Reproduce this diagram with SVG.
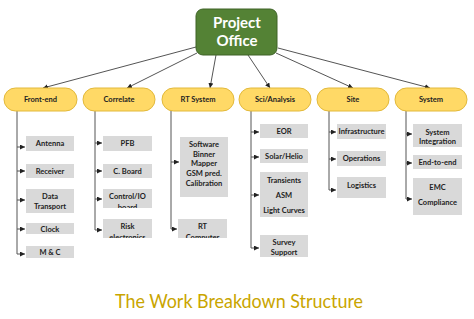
<svg xmlns="http://www.w3.org/2000/svg" width="474" height="319" viewBox="0 0 474 319">
<defs>
<marker id="ah" viewBox="0 0 10 10" refX="10" refY="5" markerWidth="5" markerHeight="5" orient="auto" markerUnits="userSpaceOnUse"><path d="M0,0 L10,5 L0,10 z" fill="#222"/></marker>
<clipPath id="cp1"><rect x="103" y="189" width="49" height="19"/></clipPath>
<clipPath id="cp2"><rect x="103" y="219" width="49" height="19"/></clipPath>
<clipPath id="cp3"><rect x="178" y="219" width="49" height="19"/></clipPath>
<style>
.l1 rect{fill:#FFD966;stroke:#E2B93B;stroke-width:1}
.l1 text{font-family:Lato,"Open Sans",sans-serif;font-weight:bold;font-size:7.5px;fill:#222;text-anchor:middle}
.bx rect{fill:#D9D9D9}
.bx text{font-family:Lato,"Open Sans",sans-serif;font-weight:bold;font-size:7.5px;fill:#222;text-anchor:middle}
.c line,.c path{stroke:#555;stroke-width:1;fill:none}
.a{marker-end:url(#ah)}
</style>
</defs>
<rect width="474" height="319" fill="#fff"/>
<g id="connectors" class="c">
<line class="a" x1="196" y1="47" x2="43" y2="88"/>
<line class="a" x1="197" y1="53" x2="127" y2="88"/>
<line class="a" x1="216" y1="55" x2="210" y2="88"/>
<line class="a" x1="248" y1="55" x2="270" y2="88"/>
<line class="a" x1="276" y1="53" x2="353" y2="88"/>
<line class="a" x1="278" y1="48" x2="430" y2="88"/>
<path d="M17,111 V254"/>
<line class="a" x1="17" y1="147" x2="25" y2="147"/>
<line class="a" x1="17" y1="171" x2="25" y2="171"/>
<line class="a" x1="17" y1="200" x2="25" y2="200"/>
<line class="a" x1="17" y1="229" x2="25" y2="229"/>
<path class="a" d="M17,254 H25"/>
<path d="M95,111 V230"/>
<line class="a" x1="95" y1="143" x2="102" y2="143"/>
<line class="a" x1="95" y1="171" x2="102" y2="171"/>
<line class="a" x1="95" y1="199" x2="102" y2="199"/>
<path class="a" d="M95,230 H102"/>
<path d="M171,111 V229"/>
<line class="a" x1="171" y1="162" x2="179" y2="162"/>
<path class="a" d="M171,229 H177"/>
<path d="M251,111 V248"/>
<line class="a" x1="251" y1="132" x2="259" y2="132"/>
<line class="a" x1="251" y1="157" x2="259" y2="157"/>
<line class="a" x1="251" y1="195" x2="259" y2="195"/>
<path class="a" d="M251,248 H259"/>
<path d="M329,111 V190"/>
<line class="a" x1="329" y1="132" x2="336" y2="132"/>
<line class="a" x1="329" y1="159" x2="336" y2="159"/>
<path class="a" d="M329,190 H336"/>
<path d="M406,111 V199"/>
<line class="a" x1="406" y1="134" x2="412" y2="134"/>
<line class="a" x1="406" y1="163" x2="412" y2="163"/>
<path class="a" d="M406,199 H412"/>
</g>
<g id="project-office">
<rect x="196" y="9" width="81" height="46" rx="7" fill="#548235" stroke="#3E6327" stroke-width="1"/>
<text x="237" y="28" font-family="Lato,'Open Sans',sans-serif" font-weight="bold" font-size="15" fill="#fff" text-anchor="middle">Project</text>
<text x="237" y="46" font-family="Lato,'Open Sans',sans-serif" font-weight="bold" font-size="15" fill="#fff" text-anchor="middle">Office</text>
</g>
<g id="front-end" class="l1"><rect x="4" y="88" width="73" height="23" rx="11.5"/><text x="40.5" y="102">Front-end</text></g>
<g id="correlate" class="l1"><rect x="83" y="88" width="72" height="23" rx="11.5"/><text x="119" y="102">Correlate</text></g>
<g id="rt-system" class="l1"><rect x="162" y="88" width="72" height="23" rx="11.5"/><text x="198" y="102">RT System</text></g>
<g id="sci-analysis" class="l1"><rect x="239" y="88" width="72" height="23" rx="11.5"/><text x="275" y="102">Sci/Analysis</text></g>
<g id="site" class="l1"><rect x="317" y="88" width="72" height="23" rx="11.5"/><text x="353" y="102">Site</text></g>
<g id="system" class="l1"><rect x="395" y="88" width="72" height="23" rx="11.5"/><text x="431" y="102">System</text></g>

<g id="antenna" class="bx"><rect x="26" y="136" width="48" height="15"/><text x="50" y="146">Antenna</text></g>
<g id="receiver" class="bx"><rect x="26" y="164" width="48" height="14"/><text x="50" y="174">Receiver</text></g>
<g id="data-transport" class="bx"><rect x="26" y="189" width="48" height="24"/><text x="50" y="199">Data</text><text x="50" y="209">Transport</text></g>
<g id="clock" class="bx"><rect x="26" y="223" width="48" height="11"/><text x="50" y="231.5">Clock</text></g>
<g id="m-c" class="bx"><rect x="26" y="246" width="48" height="12"/><text x="50" y="255">M &amp; C</text></g>

<g id="pfb" class="bx"><rect x="103" y="136" width="49" height="15"/><text x="127.5" y="146">PFB</text></g>
<g id="c-board" class="bx"><rect x="103" y="164" width="49" height="14"/><text x="127.5" y="174">C. Board</text></g>
<g id="control-io-board" class="bx"><rect x="103" y="189" width="49" height="19"/><g clip-path="url(#cp1)"><text x="127.5" y="199">Control/IO</text><text x="127.5" y="210">board</text></g></g>
<g id="risk-electronics" class="bx"><rect x="103" y="219" width="49" height="19"/><g clip-path="url(#cp2)"><text x="127.5" y="229">Risk</text><text x="127.5" y="240">electronics</text></g></g>

<g id="software" class="bx"><rect x="180" y="137" width="48" height="60"/><text x="204" y="147">Software</text><text x="204" y="156.5">Binner</text><text x="204" y="166">Mapper</text><text x="204" y="176">GSM pred.</text><text x="204" y="185.5">Calibration</text></g>
<g id="rt-computer" class="bx"><rect x="178" y="219" width="49" height="19"/><g clip-path="url(#cp3)"><text x="202.5" y="229">RT</text><text x="202.5" y="240">Computer</text></g></g>

<g id="eor" class="bx"><rect x="260" y="124" width="48" height="14"/><text x="284" y="134">EOR</text></g>
<g id="solar-helio" class="bx"><rect x="260" y="149" width="48" height="14"/><text x="284" y="159">Solar/Helio</text></g>
<g id="transients" class="bx"><rect x="260" y="172" width="48" height="45"/><text x="284" y="182.5">Transients</text><text x="284" y="197.5">ASM</text><text x="284" y="212.5">Light Curves</text></g>
<g id="survey-support" class="bx"><rect x="260" y="235" width="48" height="22"/><text x="284" y="245">Survey</text><text x="284" y="254.5">Support</text></g>

<g id="infrastructure" class="bx"><rect x="337" y="124" width="49" height="15"/><text x="361.5" y="134">Infrastructure</text></g>
<g id="operations" class="bx"><rect x="337" y="151" width="49" height="15"/><text x="361.5" y="161">Operations</text></g>
<g id="logistics" class="bx"><rect x="337" y="177" width="49" height="21"/><text x="361.5" y="187.5">Logistics</text></g>

<g id="system-integration" class="bx"><rect x="413" y="124" width="49" height="23"/><text x="437.5" y="134.5">System</text><text x="437.5" y="143.5">Integration</text></g>
<g id="end-to-end" class="bx"><rect x="413" y="155" width="49" height="14"/><text x="437.5" y="165">End-to-end</text></g>
<g id="emc-compliance" class="bx"><rect x="413" y="178" width="49" height="37"/><text x="437.5" y="189.5">EMC</text><text x="437.5" y="204.5">Compliance</text></g>

<text x="239" y="308" font-family="Lato,'Open Sans',sans-serif" font-size="18.5" fill="#C9A500" text-anchor="middle" textLength="248" lengthAdjust="spacingAndGlyphs">The Work Breakdown Structure</text>
</svg>
